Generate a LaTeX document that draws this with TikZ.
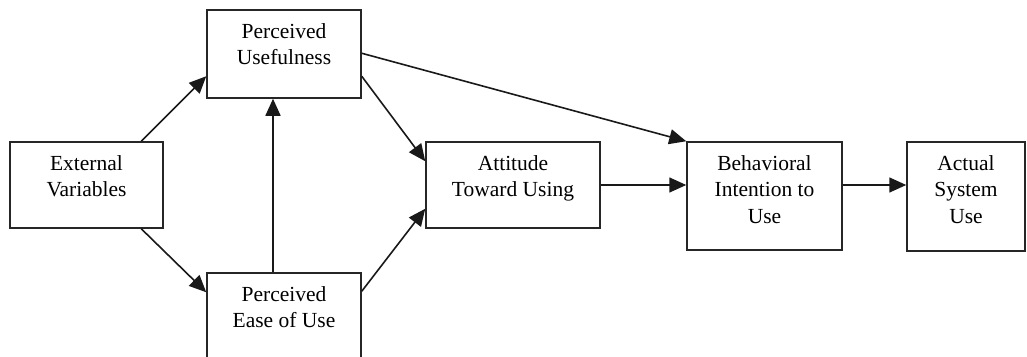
\documentclass[tikz,border=0pt]{standalone}
\usepackage{fontspec}
\setmainfont{Liberation Serif}
\usetikzlibrary{arrows.meta,calc}
\begin{document}
\begin{tikzpicture}[x=1pt,y=-1pt,
  box/.style={draw=black!85, line width=1.5pt, rectangle, inner sep=0pt},
  lbl/.style={anchor=north, align=center, inner sep=0pt, font=\fontsize{21.5}{26.5}\selectfont},
  arr/.style={draw=black!90, line width=1.6pt, -{Triangle[length=17pt,width=15pt]}}]
\useasboundingbox (0,0) rectangle (1027,356);
\clip (0,0) rectangle (1027,356);
\node[box, minimum width=153pt, minimum height=86pt] (ev) at (86.5,185) {};
\node[box, minimum width=154pt, minimum height=88pt] (pu) at (284,54) {};
\node[box, minimum width=154pt, minimum height=88pt] (peou) at (284,317) {};
\node[box, minimum width=174pt, minimum height=86pt] (atu) at (513,185) {};
\node[box, minimum width=155pt, minimum height=108pt] (bi) at (764.5,196) {};
\node[box, minimum width=118pt, minimum height=109pt] (asu) at (966,196.5) {};
\node[lbl] (evt) at ($(ev.north)+(0,14)$) {External\\Variables};
\node[lbl] (put) at ($(pu.north)+(0,14)$) {Perceived\\Usefulness};
\node[lbl] (peout) at ($(peou.north)+(0,14)$) {Perceived\\Ease of Use};
\node[lbl] (atut) at ($(atu.north)+(0,14)$) {Attitude\\Toward Using};
\node[lbl] (bit) at ($(bi.north)+(0,14)$) {Behavioral\\Intention to\\Use};
\node[lbl] (asut) at ($(asu.north)+(0,14)$) {Actual\\System\\Use};
% connectors
\draw[arr] ($(ev.north west)+(132,0)$) -- ($(pu.north west)+(0,67)$);
\draw[arr] ($(ev.south west)+(132,0)$) -- ($(peou.north west)+(0,20)$);
\draw[arr] (peou.north -| 273,0) -- (pu.south -| 273,0);
\draw[arr] ($(pu.north east)+(0,67)$) -- ($(atu.north west)+(0,20)$);
\draw[arr] ($(peou.north east)+(0,19)$) -- ($(atu.south west)+(0,-20)$);
\draw[arr] ($(pu.north east)+(0,44)$) -- (bi.north west);
\draw[arr] (atu.east |- 0,185) -- (bi.west |- 0,185);
\draw[arr] (bi.east |- 0,185) -- (asu.west |- 0,185);
\end{tikzpicture}
\end{document}
